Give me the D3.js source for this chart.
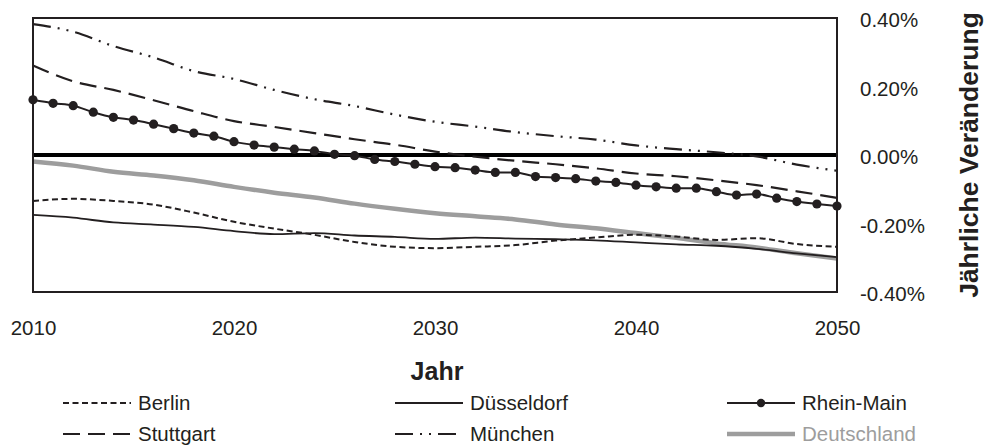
<!DOCTYPE html>
<html>
<head>
<meta charset="utf-8">
<script src="https://cdn.jsdelivr.net/npm/d3@7/dist/d3.min.js"></script>
<style>
  html, body { margin: 0; padding: 0; background: #fff; }
  svg text { font-family: "Liberation Sans", Arial, sans-serif; fill: #231f20; }
</style>
</head>
<body>
<svg id="chart" width="984" height="447"></svg>
<script>
// ---- data ----
const years = d3.range(2010, 2051);           // yearly (Rhein-Main markers)
const knotYears = d3.range(2010, 2051, 2);    // every second year for other series

const rheinMain = [0.161, 0.151, 0.144, 0.125, 0.110, 0.102, 0.090, 0.077, 0.064, 0.055,
  0.039, 0.029, 0.023, 0.017, 0.012, 0.002, -0.002, -0.013, -0.019, -0.027,
  -0.034, -0.037, -0.044, -0.051, -0.051, -0.063, -0.066, -0.069, -0.076, -0.080,
  -0.088, -0.093, -0.097, -0.097, -0.107, -0.117, -0.114, -0.126, -0.136, -0.143, -0.149];

const berlin = [-0.134, -0.128, -0.134, -0.145, -0.168, -0.195, -0.215, -0.233, -0.254, -0.268,
  -0.272, -0.268, -0.263, -0.250, -0.241, -0.233, -0.238, -0.248, -0.243, -0.260, -0.268];
const duesseldorf = [-0.175, -0.183, -0.197, -0.203, -0.210, -0.222, -0.231, -0.228, -0.235, -0.239,
  -0.245, -0.241, -0.244, -0.246, -0.249, -0.255, -0.261, -0.265, -0.274, -0.287, -0.298];
const stuttgart = [0.261, 0.215, 0.190, 0.160, 0.128, 0.099, 0.082, 0.064, 0.046, 0.030,
  0.010, -0.005, -0.017, -0.027, -0.039, -0.054, -0.062, -0.074, -0.088, -0.106, -0.125];
const muenchen = [0.382, 0.360, 0.318, 0.285, 0.245, 0.222, 0.190, 0.163, 0.143, 0.118,
  0.097, 0.083, 0.067, 0.055, 0.045, 0.028, 0.017, 0.008, -0.004, -0.028, -0.046];
const deutschland = [-0.019, -0.031, -0.049, -0.060, -0.074, -0.093, -0.110, -0.124, -0.142, -0.157,
  -0.170, -0.179, -0.188, -0.203, -0.214, -0.228, -0.242, -0.258, -0.270, -0.287, -0.302];

const xTicks = [2010, 2020, 2030, 2040, 2050];
const yTicks = [0.4, 0.2, 0, -0.2, -0.4];
const yTickLabels = ["0.40%", "0.20%", "0.00%", "-0.20%", "-0.40%"];
const xTitle = "Jahr";
const yTitle = "Jährliche Veränderung";

// ---- layout ----
const svg = d3.select("#chart");
const pLeft = 33, pRight = 837, pTop = 18, pBottom = 292;
const ink = "#231f20", grey = "#9d9d9d";
const fs = 20.5;

const x = d3.scaleLinear().domain([2010, 2050]).range([pLeft, pRight]);
const y = d3.scaleLinear().domain([-0.4, 0.4]).range([pBottom, pTop]);

const series = [
  { name: "Deutschland", yrs: knotYears, vals: deutschland, color: grey, width: 4.5, dash: null, marker: false },
  { name: "Berlin", yrs: knotYears, vals: berlin, color: ink, width: 2, dash: "6,3.5", marker: false },
  { name: "Düsseldorf", yrs: knotYears, vals: duesseldorf, color: ink, width: 1.8, dash: null, marker: false },
  { name: "Stuttgart", yrs: knotYears, vals: stuttgart, color: ink, width: 2.2, dash: "17,8", marker: false },
  { name: "München", yrs: knotYears, vals: muenchen, color: ink, width: 2.2, dash: "18,7,2,7,2,7", marker: false },
  { name: "Rhein-Main", yrs: years, vals: rheinMain, color: ink, width: 2, dash: null, marker: true }
];

// zero line
svg.append("line")
  .attr("x1", pLeft).attr("x2", pRight)
  .attr("y1", y(0)).attr("y2", y(0))
  .attr("stroke", "#000").attr("stroke-width", 4.2);

const line = d3.line().x(d => x(d[0])).y(d => y(d[1])).curve(d3.curveMonotoneX);

series.forEach(s => {
  const pts = s.yrs.map((yr, i) => [yr, s.vals[i]]);
  svg.append("path")
    .attr("d", line(pts))
    .attr("fill", "none")
    .attr("stroke", s.color)
    .attr("stroke-width", s.width)
    .attr("stroke-dasharray", s.dash)
    .attr("stroke-linejoin", "round");
  if (s.marker) {
    svg.append("g").selectAll("circle").data(pts).join("circle")
      .attr("cx", d => x(d[0])).attr("cy", d => y(d[1]))
      .attr("r", 4.6).attr("fill", ink);
  }
});

// frame
svg.append("rect")
  .attr("x", pLeft).attr("y", pTop)
  .attr("width", pRight - pLeft).attr("height", pBottom - pTop)
  .attr("fill", "none").attr("stroke", ink).attr("stroke-width", 2);

// x axis labels
const xAxis = d3.axisBottom(x).tickValues(xTicks).tickFormat(d3.format("d")).tickSize(0).tickPadding(0);
const gx = svg.append("g").attr("transform", `translate(0, ${pBottom + 28})`).call(xAxis);
gx.select(".domain").remove();
gx.selectAll("text").attr("font-size", fs).attr("fill", ink)
  .attr("font-family", "Liberation Sans, Arial, sans-serif");

// y axis labels (right)
const yAxis = d3.axisRight(y).tickValues(yTicks)
  .tickFormat((d, i) => yTickLabels[i]).tickSize(0).tickPadding(0);
const gy = svg.append("g").attr("transform", `translate(860, 2)`).call(yAxis);
gy.select(".domain").remove();
gy.selectAll("text").attr("font-size", fs).attr("fill", ink)
  .attr("font-family", "Liberation Sans, Arial, sans-serif");

// titles
svg.append("text").attr("x", 437).attr("y", 380).attr("text-anchor", "middle")
  .attr("font-size", 25).attr("font-weight", "bold").text(xTitle);
svg.append("text").attr("transform", `translate(978, 155) rotate(-90)`)
  .attr("text-anchor", "middle").attr("font-size", 26.5).attr("font-weight", "bold").text(yTitle);

// legend
const legendPos = {
  "Berlin": [63, 410], "Düsseldorf": [395, 410], "Rhein-Main": [727, 410],
  "Stuttgart": [63, 441], "München": [395, 441], "Deutschland": [727, 441]
};
series.forEach(s => {
  const [lx, ly] = legendPos[s.name];
  const g = svg.append("g");
  const my = ly - 7;
  g.append("line").attr("x1", lx).attr("x2", lx + 68).attr("y1", my).attr("y2", my)
    .attr("stroke", s.color).attr("stroke-width", s.width)
    .attr("stroke-dasharray", s.dash);
  if (s.marker) g.append("circle").attr("cx", lx + 34).attr("cy", my).attr("r", 4.2).attr("fill", ink);
  g.append("text").attr("x", lx + 75).attr("y", ly).attr("font-size", fs)
    .style("fill", s.color === grey ? grey : ink).text(s.name);
});
</script>
</body>
</html>
